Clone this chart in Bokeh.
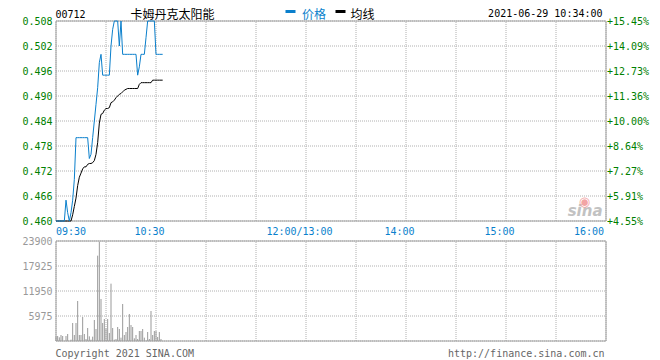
from bokeh.plotting import figure
from bokeh.models import Range1d, Label
from bokeh.embed import file_html
from bokeh.resources import INLINE

# ---------------- data ----------------
stock_code = "00712"
stock_name = "卡姆丹克太阳能"
timestamp = "2021-06-29 10:34:00"
legend_names = ["价格", "均线"]
copyright_text = "Copyright 2021 SINA.COM"
source_url = "http://finance.sina.com.cn"

# minutes since 09:30 (one point per minute, 09:30 .. 10:34)
minutes = list(range(65))

price = [0.460, 0.460, 0.460, 0.460, 0.460, 0.460, 0.465, 0.462, 0.460, 0.462,
         0.465, 0.470, 0.480, 0.480, 0.480, 0.480, 0.480, 0.480, 0.480, 0.480,
         0.475, 0.476, 0.480, 0.484, 0.488, 0.492, 0.498, 0.500, 0.495, 0.495,
         0.495, 0.495, 0.495, 0.502, 0.506, 0.508, 0.508, 0.508, 0.502, 0.508,
         0.500, 0.500, 0.500, 0.500, 0.500, 0.500, 0.500, 0.500, 0.500, 0.495,
         0.497, 0.500, 0.500, 0.500, 0.504, 0.508, 0.508, 0.508, 0.508, 0.508,
         0.500, 0.500, 0.500, 0.500, 0.500]

avg_price = [0.4600, 0.4600, 0.4600, 0.4600, 0.4600, 0.4600, 0.4600, 0.4600, 0.4600, 0.4600,
             0.4615, 0.4635, 0.4655, 0.4685, 0.4705, 0.4715, 0.4725, 0.4730, 0.4730, 0.4736,
             0.4738, 0.4738, 0.4740, 0.4745, 0.4760, 0.4788, 0.4835, 0.4856, 0.4858, 0.4866,
             0.4870, 0.4870, 0.4872, 0.4884, 0.4886, 0.4890, 0.4896, 0.4900, 0.4904, 0.4906,
             0.4910, 0.4914, 0.4916, 0.4918, 0.4918, 0.4918, 0.4918, 0.4918, 0.4918, 0.4918,
             0.4928, 0.4932, 0.4932, 0.4932, 0.4932, 0.4932, 0.4932, 0.4932, 0.4938, 0.4938,
             0.4938, 0.4938, 0.4938, 0.4938, 0.4938]

volume = [1100, 1195, 876, 1434, 1195, 0, 1195, 1673, 0, 319,
          4302, 1434, 4302, 9560, 1434, 1434, 5736, 1673, 478, 3107,
          1115, 319, 1036, 5019, 2868, 20395, 23742, 10038, 4302, 5258,
          3000, 5258, 1912, 13703, 3107, 319, 478, 3346, 2868, 797,
          8843, 1434, 2151, 3346, 6453, 3824, 3346, 637, 1434, 478,
          2390, 2390, 2868, 797, 80, 2151, 478, 7170, 1434, 2390,
          2390, 956, 2151, 478, 0]

price_ticks = [0.460, 0.466, 0.472, 0.478, 0.484, 0.490, 0.496, 0.502, 0.508]
pct_labels = ["+4.55%", "+5.91%", "+7.27%", "+8.64%", "+10.00%",
              "+11.36%", "+12.73%", "+14.09%", "+15.45%"]
vol_ticks = [0, 5975, 11950, 17925, 23900]
vol_labels = ["", "5975", "11950", "17925", "23900"]
time_ticks = [0, 60, 150, 210, 270, 330]
time_labels = ["09:30", "10:30", "12:00/13:00", "14:00", "15:00", "16:00"]
grid_minutes = list(range(0, 331, 30))

# ---------------- layout (page pixels) ----------------
W, H = 660, 360
LEFT_PX, RIGHT_PX = 55.5, 605.5          # x of 09:30 and 16:00
PRICE_TOP_PX, PRICE_BOT_PX = 20.5, 220.5
VOL_TOP_PX, VOL_BOT_PX = 240.5, 340.5

T0, T1 = time_ticks[0], time_ticks[-1]
MIN_PER_PX = (T1 - T0) / (RIGHT_PX - LEFT_PX)
P0, P1 = price_ticks[0], price_ticks[-1]
PRICE_PER_PX = (P1 - P0) / (PRICE_BOT_PX - PRICE_TOP_PX)
V0, V1 = vol_ticks[0], vol_ticks[-1]
VOL_PER_PX = (V1 - V0) / (VOL_BOT_PX - VOL_TOP_PX)

x_range = Range1d(T0 - LEFT_PX * MIN_PER_PX, T0 + (W - LEFT_PX) * MIN_PER_PX)
y_range = Range1d(P1 - (H - PRICE_TOP_PX) * PRICE_PER_PX, P1 + PRICE_TOP_PX * PRICE_PER_PX)
vol_range = Range1d(V0 - (H - VOL_BOT_PX) * VOL_PER_PX, V0 + VOL_BOT_PX * VOL_PER_PX)


def px_x(px):
    return x_range.start + px * MIN_PER_PX


def py_price(py):
    return y_range.end - py * PRICE_PER_PX


# ---------------- style ----------------
BLUE = "#0a7fcc"
GREEN = "#008000"
GRID = "#b0b0b0"
BORDER = "#a0a0a0"
MONO = "DejaVu Sans Mono"
CJK = "Noto Sans CJK SC"

p = figure(width=W, height=H, output_backend="svg", toolbar_location=None, title=None,
           x_axis_type=None, y_axis_type=None, x_range=x_range, y_range=y_range,
           min_border=0, min_border_left=0, min_border_right=0,
           min_border_top=0, min_border_bottom=0)
p.extra_y_ranges = {"vol": vol_range}
p.outline_line_color = None
p.background_fill_color = "white"
p.border_fill_color = "white"
p.xgrid.visible = False if p.xgrid else None

# ---------- price panel ----------
n = len(grid_minutes)
p.segment(x0=grid_minutes, y0=[P0] * n, x1=grid_minutes, y1=[P1] * n,
          line_color=GRID, line_width=1, line_dash="1 1")
m = len(price_ticks)
p.segment(x0=[T0] * m, y0=price_ticks, x1=[T1] * m, y1=price_ticks,
          line_color=GRID, line_width=1, line_dash="1 1")
p.quad(left=[T0], right=[T1], bottom=[P0], top=[P1], fill_color=None,
       line_color=BORDER, line_width=1)

p.line(minutes, avg_price, line_color="black", line_width=1)
p.line(minutes, price, line_color=BLUE, line_width=1)

# ---------- volume panel ----------
p.segment(x0=grid_minutes, y0=[V0] * n, x1=grid_minutes, y1=[V1] * n,
          line_color=GRID, line_width=1, line_dash="1 1", y_range_name="vol")
k = len(vol_ticks)
p.segment(x0=[T0] * k, y0=vol_ticks, x1=[T1] * k, y1=vol_ticks,
          line_color=GRID, line_width=1, line_dash="1 1", y_range_name="vol")
p.segment(x0=minutes, y0=[0] * len(minutes), x1=minutes, y1=volume,
          line_color="#999999", line_width=1, y_range_name="vol")
p.quad(left=[T0], right=[T1], bottom=[V0], top=[V1], fill_color=None,
       line_color=BORDER, line_width=1, y_range_name="vol")


def lab(x, y, text, color="black", font=MONO, size="10px", align="left",
        xo=0, yo=0, style="normal", rng="default"):
    p.add_layout(Label(x=x, y=y, text=text, text_font=font, text_font_size=size,
                       text_color=color, text_align=align, text_baseline="alphabetic",
                       text_font_style=style, x_offset=xo, y_offset=yo, y_range_name=rng))


# tick labels
for t, pl in zip(price_ticks, pct_labels):
    lab(T0, t, f"{t:.3f}", GREEN, align="right", xo=-3.5, yo=0)
    lab(T1, t, pl, GREEN, align="left", xo=1, yo=0)

for t, vl in zip(vol_ticks, vol_labels):
    if vl:
        lab(T0, t, vl, "#999999", align="right", xo=-3.5, yo=0, rng="vol")

t_align = ["left", "center", "center", "center", "center", "right"]
t_off = [0, -6.5, -6.5, -6.5, -6.5, -2]
for t, tl, al, o in zip(time_ticks, time_labels, t_align, t_off):
    lab(t, P0, tl, BLUE, align=al, xo=o, yo=-10.5)

# header
lab(T0, P1, stock_code, "black", align="left", xo=-0.5, yo=7.5)
lab(T0, P1, stock_name, "black", font=CJK, size="12px", align="left", xo=74.5, yo=7.5)
lab(T0, P1, legend_names[0], BLUE, font=CJK, size="12px", align="left", xo=246, yo=7.5)
lab(T0, P1, legend_names[1], "black", font=CJK, size="12px", align="left", xo=294.5, yo=7.5)
lab(T1, P1, timestamp, "black", align="right", xo=-3.5, yo=7.5)
p.rect(x=[px_x(290), px_x(340)], y=[py_price(11), py_price(11)], width=10, height=3,
       width_units="screen", height_units="screen",
       fill_color=[BLUE, "black"], line_color=None)

# footer
lab(T0, V0, copyright_text, "#666666", align="left", xo=-0.5, yo=-12.5, rng="vol")
lab(T1, V0, source_url, "#666666", align="right", xo=-1.5, yo=-12.5, rng="vol")

# sina watermark
lab(T1, P0, "sina", "#c2c2c2", font="DejaVu Sans", size="15px", align="right",
    xo=-3.5, yo=10.5, style="bold italic")
lab(T1, P0, "◉", "#f2a4a4", font="DejaVu Sans", size="13px", align="center",
    xo=-21.5, yo=19.5)

open("out.html", "w").write(file_html(p, INLINE))
